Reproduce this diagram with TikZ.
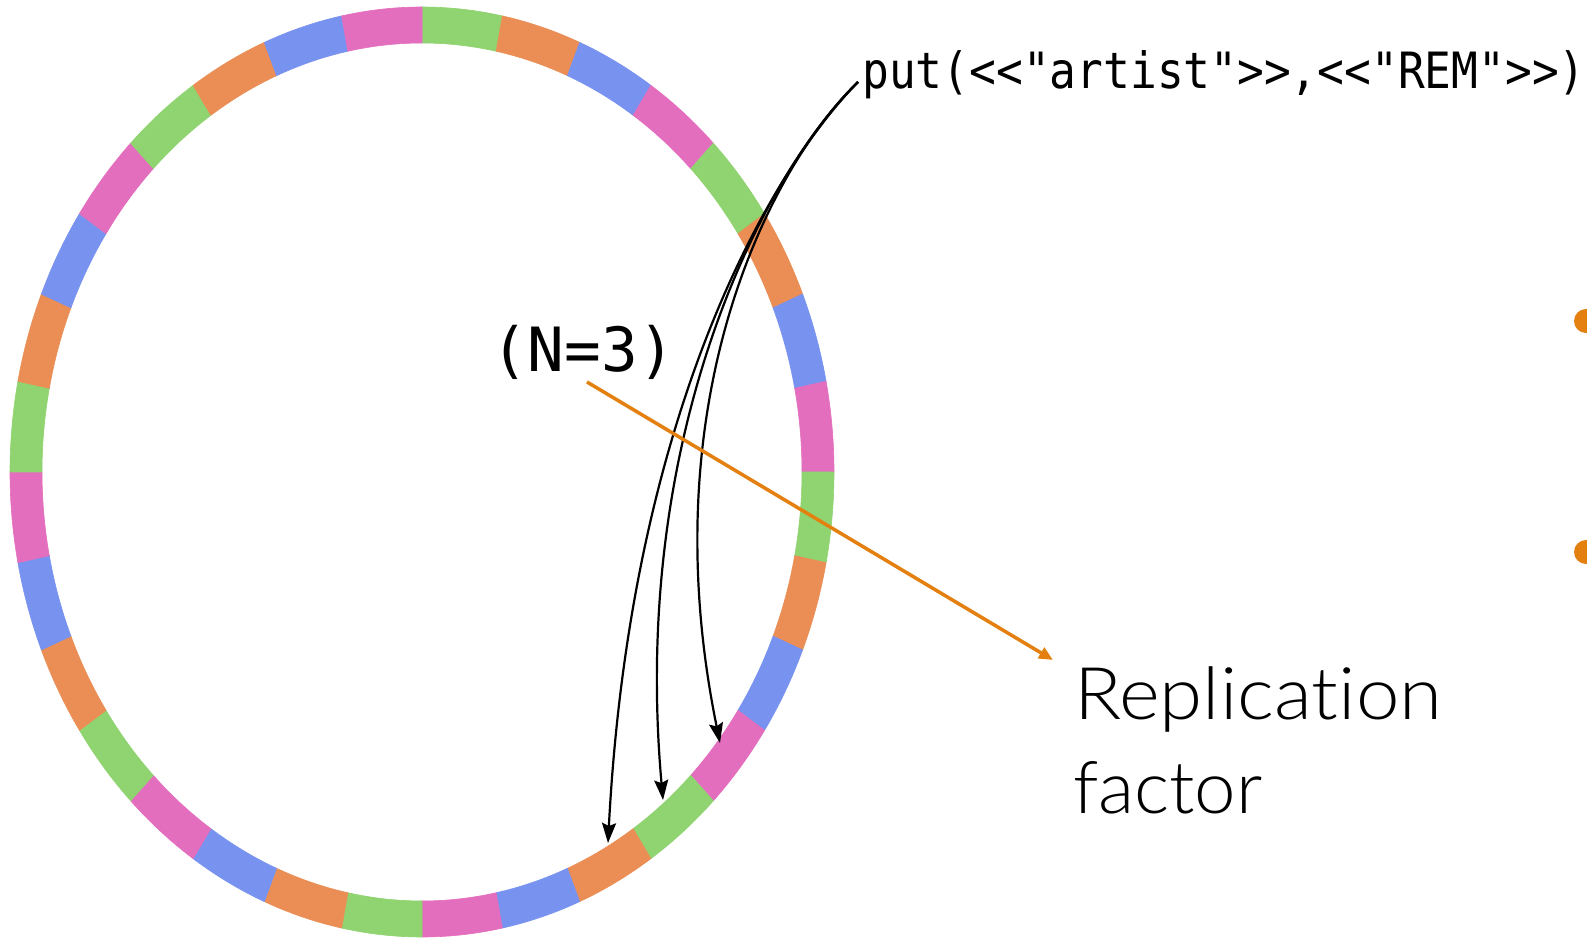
\documentclass[tikz,border=0pt]{standalone}
\usepackage{fontspec}
\usepackage{graphicx}
\setmonofont{DejaVu Sans Mono}
\newfontfamily\lightsans{Lato Light}[Ligatures={NoCommon}]
\usetikzlibrary{arrows.meta}
\definecolor{ringgreen}{HTML}{8FD470}
\definecolor{ringorange}{HTML}{EA8E55}
\definecolor{ringblue}{HTML}{7892F0}
\definecolor{ringpink}{HTML}{E46EBE}
\definecolor{accent}{HTML}{E3800F}
\tikzset{
  ringseg/.style={line width=0.6pt, line join=miter},
  putarrow/.style={line width=2.2pt, black, -{Stealth[length=20pt,width=14pt,inset=3pt]}},
  noteline/.style={line width=3.5pt, accent, -{Triangle[length=14pt,width=12pt]}},
  codetext/.style={inner sep=0pt, font=\fontsize{50}{60}\selectfont\ttfamily},
  ntext/.style={inner sep=0pt, font=\fontsize{61}{70}\selectfont\ttfamily},
  bigtext/.style={inner sep=0pt, font=\fontsize{72.6}{90}\selectfont\lightsans},
  bulletdot/.style={fill=accent, draw=none}
}
\begin{document}
\begin{tikzpicture}[x=1pt,y=1pt]
\useasboundingbox (0,0) rectangle (1587,942);
\fill[white] (0,0) rectangle (1587,942);
\coordinate (ctr) at (422,470);
\begin{scope}[shift={(ctr)}]
\foreach \k in {0,...,31}{
  \pgfmathtruncatemacro{\c}{mod(\k,4)}
  \pgfmathsetmacro{\sa}{90-11.25*\k}
  \pgfmathsetmacro{\ea}{90-11.25*(\k+1)}
  \ifcase\c \def\col{ringgreen}\or \def\col{ringorange}\or \def\col{ringblue}\or \def\col{ringpink}\fi
  \filldraw[ringseg, fill=\col, draw=\col] (\sa:412 and 465) arc[start angle=\sa, end angle=\ea, x radius=412, y radius=465]
    -- (\ea:380 and 429) arc[start angle=\ea, end angle=\sa, x radius=380, y radius=429] -- cycle;
}
\end{scope}
% texts
\node[codetext, anchor=base] (put) at (1224,853) {\scalebox{0.89}[1]{put(<<"artist">>,<<"REM">>)}};
\node[ntext, anchor=base] (nthree) at (583,570) {(N=3)};
\node[bigtext, anchor=base west] (repl) at (1074,222) {\scalebox{1.075}[1]{Replication}};
\node[bigtext, anchor=base west] (fact) at (1073,128) {\scalebox{1.025}[1]{factor}};
% bullet dots
\fill[bulletdot] (1586,621) circle[radius=12] node (dot1) {};
\fill[bulletdot] (1586,390) circle[radius=12] node (dot2) {};
% put arrows
\coordinate (src) at (858,860);
\coordinate (t1) at (608,99);
\coordinate (t2) at (663,142);
\coordinate (t3) at (720,199);
\draw[putarrow] (src) .. controls (765,765) and (630,522) .. (t1);
\draw[putarrow] (src) .. controls (765,770) and (630,512) .. (t2);
\draw[putarrow] (src) .. controls (770,775) and (650,542) .. (t3);
% orange arrow
\coordinate (nfoot) at (587,560);
\coordinate (rtip) at (1053,282);
\draw[noteline] (nfoot) -- (rtip);
\end{tikzpicture}
\end{document}
